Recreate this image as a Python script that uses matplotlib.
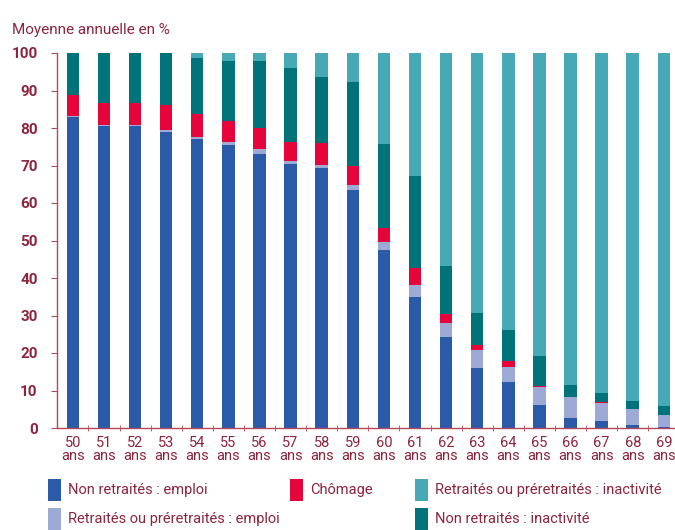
import matplotlib
matplotlib.use("Agg")
import matplotlib.pyplot as plt
from matplotlib.patches import Rectangle

ages = ["50", "51", "52", "53", "54", "55", "56", "57", "58", "59",
        "60", "61", "62", "63", "64", "65", "66", "67", "68", "69"]
tick_labels = [a + "\nans" for a in ages]

non_ret_emploi = [83, 80.5, 80.5, 79, 77, 75.5, 73, 70.3, 69.3, 63.5,
                  47.5, 35, 24.4, 16, 12.2, 6.2, 2.8, 1.8, 0.9, 0.2]
ret_emploi = [0.2, 0.2, 0.3, 0.6, 0.7, 0.8, 1.3, 0.9, 0.9, 1.4,
              2, 3.2, 3.6, 4.9, 4.2, 4.7, 5.5, 5, 4.2, 3.3]
chomage = [5.7, 6, 5.9, 6.6, 6.1, 5.6, 5.7, 5.2, 5.8, 5.1,
           3.8, 4.6, 2.4, 1.3, 1.4, 0.2, 0.1, 0.1, 0.1, 0.1]
non_ret_inact = [11.1, 13.3, 13.3, 13.8, 14.9, 16.1, 17.8, 19.6, 17.6, 22.3,
                 22.5, 24.3, 12.7, 8.6, 8.4, 8, 3, 2.4, 2.1, 2.3]
ret_inact = [0, 0, 0, 0, 1.3, 2, 2.2, 4, 6.4, 7.7,
             24.2, 32.9, 56.9, 69.2, 73.8, 80.9, 88.6, 90.7, 92.7, 94.1]

series = [
    ("Non retraités : emploi", non_ret_emploi, "#2b5aa8"),
    ("Retraités ou préretraités : emploi", ret_emploi, "#9daad6"),
    ("Chômage", chomage, "#e5053a"),
    ("Non retraités : inactivité", non_ret_inact, "#00727a"),
    ("Retraités ou préretraités : inactivité", ret_inact, "#47a9b6"),
]

txt_color = "#8c2540"
axis_color = "#b24a5a"
plt.rcParams['font.family'] = ['Roboto', 'DejaVu Sans']

fig = plt.figure(figsize=(6.75, 5.3), dpi=100)
ax = fig.add_axes([57/675, 1-428/530, 1-57/675, 375/530])

x = list(range(len(ages)))
bottom = [0.0] * len(ages)
for name, vals, col in series:
    ax.bar(x, vals, width=0.4, bottom=bottom, color=col, linewidth=0)
    bottom = [b + v for b, v in zip(bottom, vals)]

ax.set_xlim(-0.51, 19.36)
ax.set_ylim(0, 100)
ax.set_yticks(range(0, 101, 10))
ax.set_xticks(x)
ax.set_xticklabels(tick_labels, linespacing=0.9)
ax.set_xticks([i + 0.5 for i in x[:-1]], minor=True)
ax.tick_params(axis='x', which='major', length=0, pad=6, labelsize=10.5, labelcolor=txt_color)
ax.tick_params(axis='x', which='minor', length=4, direction='inout', color=axis_color)
ax.tick_params(axis='y', length=4, color=axis_color, labelsize=11, labelcolor=txt_color, pad=10)
for lab in ax.get_yticklabels():
    lab.set_fontweight('bold')
for s in ['top', 'right']:
    ax.spines[s].set_visible(False)
for s in ['left', 'bottom']:
    ax.spines[s].set_color(axis_color)
    ax.spines[s].set_linewidth(1)

fig.text(12/675, 1-30/530, "Moyenne annuelle en %", color=txt_color,
         fontsize=11, va='center', ha='left')

# legend
W, H = 675, 530
legend_pos = [
    (0, 48, 490), (2, 290, 490), (4, 415, 490),
    (1, 48, 519), (3, 415, 519),
]
for idx, px, py in legend_pos:
    name, vals, col = series[idx]
    fig.patches.append(Rectangle((px/W, 1-(py+11)/H), 13/W, 22/H,
                                 transform=fig.transFigure, color=col, linewidth=0))
    fig.text((px+20)/W, 1-py/H, name, color=txt_color, fontsize=10.5,
             va='center', ha='left')

fig.savefig("out.png", dpi=100)
